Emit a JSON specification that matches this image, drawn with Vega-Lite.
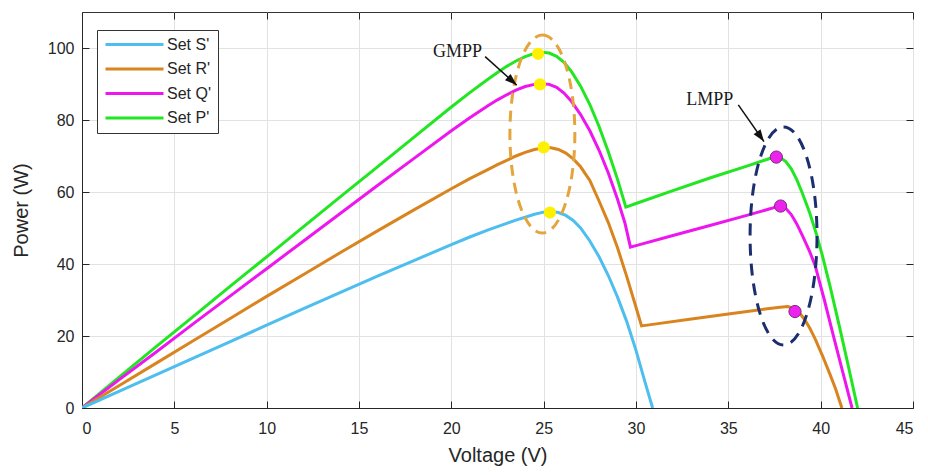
{
  "$schema": "https://vega.github.io/schema/vega-lite/v6.json",
  "width": 831,
  "height": 396,
  "autosize": {"type": "none"},
  "padding": {"left": 82, "top": 12, "right": 15, "bottom": 67},
  "background": "white",
  "datasets": {
    "curves": [
      {"s":"Set P'","v":0,"p":0},{"s":"Set P'","v":2,"p":8.5},{"s":"Set P'","v":4,"p":17},{"s":"Set P'","v":6,"p":25.3},{"s":"Set P'","v":8,"p":33.7},{"s":"Set P'","v":10,"p":42},{"s":"Set P'","v":12,"p":50.4},{"s":"Set P'","v":14,"p":58.7},{"s":"Set P'","v":16,"p":67},{"s":"Set P'","v":18,"p":75.3},{"s":"Set P'","v":20,"p":83.6},{"s":"Set P'","v":21,"p":87.6},{"s":"Set P'","v":22,"p":91.4},{"s":"Set P'","v":22.5,"p":93.2},{"s":"Set P'","v":23,"p":94.9},{"s":"Set P'","v":23.5,"p":96.4},{"s":"Set P'","v":24,"p":97.6},{"s":"Set P'","v":24.5,"p":98.5},{"s":"Set P'","v":24.9,"p":98.8},{"s":"Set P'","v":25.3,"p":98.6},{"s":"Set P'","v":25.7,"p":97.7},{"s":"Set P'","v":26.1,"p":96},{"s":"Set P'","v":26.5,"p":93.5},{"s":"Set P'","v":27,"p":89.4},{"s":"Set P'","v":27.5,"p":84.3},{"s":"Set P'","v":28,"p":78.2},{"s":"Set P'","v":28.5,"p":71.2},{"s":"Set P'","v":29,"p":63.5},{"s":"Set P'","v":29.45,"p":55.8},{"s":"Set P'","v":30,"p":56.8},{"s":"Set P'","v":32,"p":60.4},{"s":"Set P'","v":34,"p":63.9},{"s":"Set P'","v":36,"p":67.2},{"s":"Set P'","v":37,"p":68.9},{"s":"Set P'","v":37.5,"p":69.8},{"s":"Set P'","v":37.8,"p":69.6},{"s":"Set P'","v":38.1,"p":68.5},{"s":"Set P'","v":38.4,"p":66.5},{"s":"Set P'","v":38.7,"p":63.5},{"s":"Set P'","v":39,"p":59.8},{"s":"Set P'","v":39.4,"p":54.3},{"s":"Set P'","v":39.8,"p":47.8},{"s":"Set P'","v":40.1,"p":42.2},{"s":"Set P'","v":40.5,"p":34},{"s":"Set P'","v":41,"p":23},{"s":"Set P'","v":41.5,"p":11.6},{"s":"Set P'","v":42,"p":0},
      {"s":"Set Q'","v":0,"p":0},{"s":"Set Q'","v":2,"p":7.8},{"s":"Set Q'","v":4,"p":15.5},{"s":"Set Q'","v":6,"p":23.3},{"s":"Set Q'","v":8,"p":31},{"s":"Set Q'","v":10,"p":38.7},{"s":"Set Q'","v":12,"p":46.4},{"s":"Set Q'","v":14,"p":54.1},{"s":"Set Q'","v":16,"p":61.8},{"s":"Set Q'","v":18,"p":69.4},{"s":"Set Q'","v":20,"p":77},{"s":"Set Q'","v":21,"p":80.6},{"s":"Set Q'","v":22,"p":84},{"s":"Set Q'","v":22.5,"p":85.6},{"s":"Set Q'","v":23,"p":87},{"s":"Set Q'","v":23.5,"p":88.3},{"s":"Set Q'","v":24,"p":89.3},{"s":"Set Q'","v":24.5,"p":89.9},{"s":"Set Q'","v":24.9,"p":90.1},{"s":"Set Q'","v":25.3,"p":89.9},{"s":"Set Q'","v":25.7,"p":89.1},{"s":"Set Q'","v":26.1,"p":87.5},{"s":"Set Q'","v":26.5,"p":85.2},{"s":"Set Q'","v":27,"p":81.5},{"s":"Set Q'","v":27.5,"p":77},{"s":"Set Q'","v":28,"p":71.6},{"s":"Set Q'","v":28.5,"p":65.3},{"s":"Set Q'","v":29,"p":58},{"s":"Set Q'","v":29.4,"p":51.4},{"s":"Set Q'","v":29.7,"p":44.7},{"s":"Set Q'","v":30,"p":45.1},{"s":"Set Q'","v":32,"p":47.9},{"s":"Set Q'","v":34,"p":50.7},{"s":"Set Q'","v":36,"p":53.5},{"s":"Set Q'","v":37.3,"p":55.4},{"s":"Set Q'","v":37.8,"p":56.2},{"s":"Set Q'","v":38.1,"p":55.5},{"s":"Set Q'","v":38.4,"p":53.8},{"s":"Set Q'","v":38.7,"p":51.2},{"s":"Set Q'","v":39,"p":48},{"s":"Set Q'","v":39.4,"p":43.5},{"s":"Set Q'","v":39.7,"p":39.6},{"s":"Set Q'","v":40.2,"p":30},{"s":"Set Q'","v":40.7,"p":19.8},{"s":"Set Q'","v":41.2,"p":9.9},{"s":"Set Q'","v":41.7,"p":0},
      {"s":"Set R'","v":0,"p":0},{"s":"Set R'","v":2,"p":6.2},{"s":"Set R'","v":4,"p":12.4},{"s":"Set R'","v":6,"p":18.6},{"s":"Set R'","v":8,"p":24.8},{"s":"Set R'","v":10,"p":31},{"s":"Set R'","v":12,"p":37.1},{"s":"Set R'","v":14,"p":43.2},{"s":"Set R'","v":16,"p":49.2},{"s":"Set R'","v":18,"p":55.1},{"s":"Set R'","v":20,"p":60.9},{"s":"Set R'","v":21,"p":63.7},{"s":"Set R'","v":22,"p":66.3},{"s":"Set R'","v":22.5,"p":67.6},{"s":"Set R'","v":23,"p":68.8},{"s":"Set R'","v":23.5,"p":70},{"s":"Set R'","v":24,"p":71},{"s":"Set R'","v":24.5,"p":71.8},{"s":"Set R'","v":25,"p":72.3},{"s":"Set R'","v":25.4,"p":72.3},{"s":"Set R'","v":25.8,"p":71.8},{"s":"Set R'","v":26.2,"p":70.8},{"s":"Set R'","v":26.6,"p":69.2},{"s":"Set R'","v":27,"p":67},{"s":"Set R'","v":27.5,"p":63.2},{"s":"Set R'","v":28,"p":57.5},{"s":"Set R'","v":28.5,"p":51.5},{"s":"Set R'","v":29,"p":44.5},{"s":"Set R'","v":29.5,"p":36.5},{"s":"Set R'","v":30,"p":28},{"s":"Set R'","v":30.3,"p":22.8},{"s":"Set R'","v":31,"p":23.3},{"s":"Set R'","v":33,"p":24.7},{"s":"Set R'","v":35,"p":26.1},{"s":"Set R'","v":37,"p":27.5},{"s":"Set R'","v":37.8,"p":28},{"s":"Set R'","v":38.2,"p":28.2},{"s":"Set R'","v":38.5,"p":27.8},{"s":"Set R'","v":38.8,"p":26.7},{"s":"Set R'","v":39.1,"p":24.8},{"s":"Set R'","v":39.4,"p":22.3},{"s":"Set R'","v":39.7,"p":19.2},{"s":"Set R'","v":40.1,"p":14.5},{"s":"Set R'","v":40.5,"p":9.4},{"s":"Set R'","v":40.8,"p":5.4},{"s":"Set R'","v":41.15,"p":0},
      {"s":"Set S'","v":0,"p":0},{"s":"Set S'","v":2,"p":4.6},{"s":"Set S'","v":4,"p":9.2},{"s":"Set S'","v":6,"p":13.8},{"s":"Set S'","v":8,"p":18.4},{"s":"Set S'","v":10,"p":23},{"s":"Set S'","v":12,"p":27.6},{"s":"Set S'","v":14,"p":32.1},{"s":"Set S'","v":16,"p":36.6},{"s":"Set S'","v":18,"p":41},{"s":"Set S'","v":20,"p":45.4},{"s":"Set S'","v":21,"p":47.5},{"s":"Set S'","v":22,"p":49.5},{"s":"Set S'","v":23,"p":51.3},{"s":"Set S'","v":23.5,"p":52.2},{"s":"Set S'","v":24,"p":53},{"s":"Set S'","v":24.5,"p":53.8},{"s":"Set S'","v":25,"p":54.4},{"s":"Set S'","v":25.4,"p":54.6},{"s":"Set S'","v":25.8,"p":54.3},{"s":"Set S'","v":26.2,"p":53.5},{"s":"Set S'","v":26.6,"p":52.1},{"s":"Set S'","v":27,"p":50},{"s":"Set S'","v":27.5,"p":46.4},{"s":"Set S'","v":28,"p":42},{"s":"Set S'","v":28.5,"p":36.8},{"s":"Set S'","v":29,"p":30.8},{"s":"Set S'","v":29.5,"p":24},{"s":"Set S'","v":30,"p":16},{"s":"Set S'","v":30.5,"p":7},{"s":"Set S'","v":30.9,"p":0}
    ],
    "gmpp": [
      {"v":24.7,"p":98.4},{"v":24.8,"p":89.9},{"v":25.0,"p":72.4},{"v":25.34,"p":54.3}
    ],
    "lmpp": [
      {"v":37.6,"p":69.7},{"v":37.83,"p":56.1},{"v":38.61,"p":26.8}
    ],
    "ellipses": [
      {"k":"g","v":24.93,"p":76.1},{"k":"l","v":37.99,"p":47.8}
    ],
    "arrows": [
      {"k":"g","v":21.83,"p":97.6,"v2":23.54,"p2":89.7},{"k":"l","v":35.54,"p":84.2,"v2":36.93,"p2":74.0}
    ],
    "heads": [
      {"k":"g","v":23.54,"p":89.7},{"k":"l","v":36.93,"p":74.0}
    ],
    "labels": [
      {"t":"GMPP","v":20.33,"p":99.0},{"t":"LMPP","v":34.0,"p":85.6}
    ]
  },
  "encoding": {
    "x": {"field": "v", "type": "quantitative", "title": "Voltage (V)",
      "scale": {"domain": [0, 45], "nice": false, "zero": false}, "axis": null},
    "y": {"field": "p", "type": "quantitative", "title": "Power (W)",
      "scale": {"domain": [0, 110], "nice": false}, "axis": null}
  },
  "resolve": {"axis": {"x": "independent", "y": "independent"}},
  "layer": [
    {
      "data": {"name": "curves"},
      "mark": {"type": "line", "strokeWidth": 3, "clip": true},
      "encoding": {
        "x": {"field": "v", "type": "quantitative", "title": "Voltage (V)",
          "scale": {"domain": [0, 45], "nice": false, "zero": false},
          "axis": {"values": [0,5,10,15,20,25,30,35,40,45], "labelPadding": 19, "titlePadding": 9}},
        "y": {"field": "p", "type": "quantitative", "title": "Power (W)",
          "scale": {"domain": [0, 110], "nice": false},
          "axis": {"values": [0,20,40,60,80,100], "labelPadding": 15, "titlePadding": 16}},
        "color": {"field": "s", "type": "nominal",
          "scale": {"domain": ["Set S'","Set R'","Set Q'","Set P'"], "range": ["#4DBEEE","#D9841F","#EE16EE","#22E622"]},
          "legend": {"orient": "none", "legendX": 15, "legendY": 18, "title": null, "symbolType": "stroke", "symbolSize": 3364, "symbolStrokeWidth": 3, "clipHeight": 15, "labelOffset": 2, "labelFont": "Liberation Sans", "labelFontSize": 16, "labelColor": "#262626", "strokeColor": "#333333", "fillColor": "white", "padding": 7, "rowPadding": 7.5}
        }
      }
    },
    {
      "data": {"name": "ellipses"},
      "transform": [{"filter": "datum.k == 'g'"}],
      "mark": {"type": "point", "shape": "M0,-1 C0.181,-1 0.328,-0.552 0.328,0 C0.328,0.552 0.181,1 0,1 C-0.181,1 -0.328,0.552 -0.328,0 C-0.328,-0.552 -0.181,-1 0,-1 Z", "size": 39204, "filled": false, "stroke": "#E3A53C", "strokeWidth": 3, "strokeDash": [11, 7], "opacity": 1}
    },
    {
      "data": {"name": "ellipses"},
      "transform": [{"filter": "datum.k == 'l'"}],
      "mark": {"type": "point", "shape": "M0,-1 C0.170,-1 0.307,-0.552 0.307,0 C0.307,0.552 0.170,1 0,1 C-0.170,1 -0.307,0.552 -0.307,0 C-0.307,-0.552 -0.170,-1 0,-1 Z", "size": 47524, "filled": false, "stroke": "#1B2F6E", "strokeWidth": 3, "strokeDash": [12, 8], "opacity": 1}
    },
    {
      "data": {"name": "gmpp"},
      "mark": {"type": "circle", "size": 150, "fill": "#FFF000", "opacity": 1}
    },
    {
      "data": {"name": "lmpp"},
      "mark": {"type": "circle", "size": 150, "fill": "#EE22EE", "stroke": "#7B2C7B", "strokeWidth": 1, "opacity": 1}
    },
    {
      "data": {"name": "arrows"},
      "mark": {"type": "rule", "strokeWidth": 1.5, "color": "#111111"},
      "encoding": {"x2": {"field": "v2"}, "y2": {"field": "p2"}}
    },
    {
      "data": {"name": "heads"},
      "transform": [{"filter": "datum.k == 'g'"}],
      "mark": {"type": "point", "shape": "M0,0 L0.35,1 L-0.35,1 Z", "size": 576, "filled": true, "color": "#111111", "opacity": 1, "angle": 131.8}
    },
    {
      "data": {"name": "heads"},
      "transform": [{"filter": "datum.k == 'l'"}],
      "mark": {"type": "point", "shape": "M0,0 L0.35,1 L-0.35,1 Z", "size": 576, "filled": true, "color": "#111111", "opacity": 1, "angle": 145}
    },
    {
      "data": {"name": "labels"},
      "mark": {"type": "text", "font": "Liberation Serif", "fontSize": 18, "color": "#1a1a1a"},
      "encoding": {
        "text": {"field": "t"},
        "x": {"field": "v", "type": "quantitative",
          "scale": {"domain": [0, 45], "nice": false, "zero": false},
          "axis": {"orient": "top", "values": [0,5,10,15,20,25,30,35,40,45], "labels": false, "grid": false, "domain": false, "title": null}},
        "y": {"field": "p", "type": "quantitative",
          "scale": {"domain": [0, 110], "nice": false},
          "axis": {"orient": "right", "values": [0,20,40,60,80,100], "labels": false, "grid": false, "domain": false, "title": null}}
      }
    }
  ],
  "config": {
    "view": {"stroke": "#333333", "strokeWidth": 1},
    "axis": {
      "labelFont": "Liberation Sans", "labelFontSize": 16, "labelColor": "#262626",
      "titleFont": "Liberation Sans", "titleFontSize": 20, "titleFontWeight": "normal", "titleColor": "#262626",
      "gridColor": "#e2e2e2", "gridWidth": 1,
      "domainColor": "#262626", "tickColor": "#262626", "tickSize": -7, "tickWidth": 1
    }
  }
}
